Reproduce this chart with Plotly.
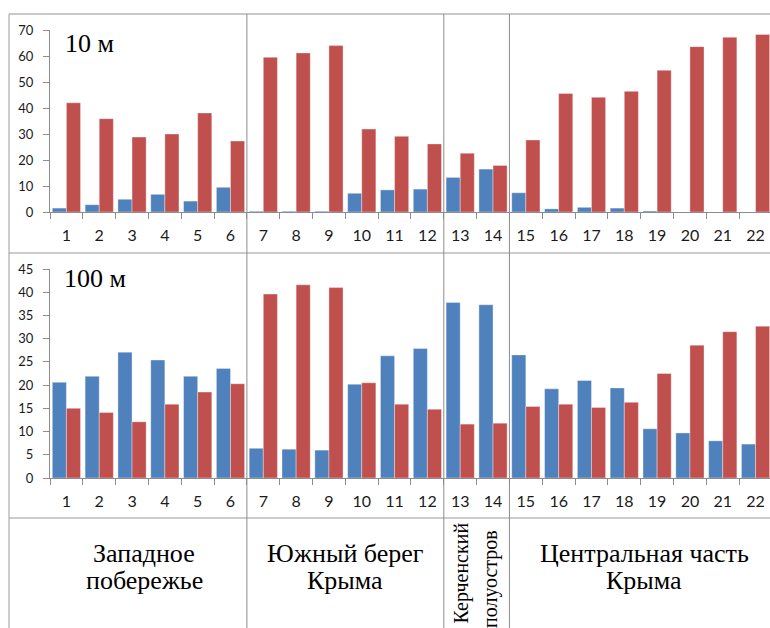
import plotly.graph_objects as go

W, H = 770, 628

categories = [str(i) for i in range(1, 23)]

blue_10m = [1.5, 2.8, 4.9, 6.8, 4.2, 9.5, 0.3, 0.3, 0.3, 7.2, 8.5, 8.8, 13.3, 16.5,
            7.4, 1.2, 1.8, 1.5, 0.4, 0.0, 0.0, 0.0]
red_10m = [42.0, 35.9, 28.8, 30.0, 38.1, 27.3, 59.5, 61.2, 64.0, 31.9, 29.1, 26.2, 22.6, 17.9,
           27.7, 45.6, 44.1, 46.4, 54.5, 63.6, 67.2, 68.3]

blue_100m = [20.6, 21.9, 27.1, 25.4, 21.9, 23.6, 6.4, 6.2, 6.0, 20.2, 26.3, 27.9, 37.8, 37.3,
             26.5, 19.2, 21.0, 19.4, 10.6, 9.7, 8.0, 7.3]
red_100m = [15.0, 14.1, 12.1, 15.9, 18.5, 20.3, 39.6, 41.6, 41.0, 20.5, 15.9, 14.8, 11.6, 11.8,
            15.4, 15.9, 15.2, 16.3, 22.5, 28.6, 31.5, 32.7]

y_ticks_10m = [0, 10, 20, 30, 40, 50, 60, 70]
y_ticks_100m = [0, 5, 10, 15, 20, 25, 30, 35, 40, 45]

panel_labels = ["10 м", "100 м"]
regions = [
    ("Западное", "побережье"),
    ("Южный берег", "Крыма"),
    ("Керченский", "полуостров"),
    ("Центральная часть", "Крыма"),
]

BLUE = "#4F81BD"
RED = "#C0504D"
GRID = "#8C8C8C"
SERIF = "Liberation Serif, Times New Roman, serif"


def px(x):
    return x / W


def py(y):
    return 1 - y / H


fig = go.Figure()
for b, r, xa, ya in [(blue_10m, red_10m, "x", "y"), (blue_100m, red_100m, "x2", "y2")]:
    fig.add_trace(go.Bar(x=categories, y=b, xaxis=xa, yaxis=ya, marker_color=BLUE,
                         marker_line=dict(color="rgba(255,255,255,0.6)", width=0.6),
                         showlegend=False, hoverinfo="skip"))
    fig.add_trace(go.Bar(x=categories, y=r, xaxis=xa, yaxis=ya, marker_color=RED,
                         marker_line=dict(color="rgba(255,255,255,0.6)", width=0.6),
                         showlegend=False, hoverinfo="skip"))

xrange_ = [-0.5, 21.44]
xcommon = dict(type="category", range=xrange_, domain=[px(50), 1.0], automargin=False,
               showline=True, linecolor=GRID, linewidth=1,
               ticks="outside", tickson="boundaries", ticklen=6, tickcolor=GRID,
               ticklabelstandoff=9,
               tickfont=dict(family="Lato", size=16, color="#1a1a1a"),
               showgrid=False, zeroline=False, fixedrange=True)
ycommon = dict(showline=True, linecolor=GRID, linewidth=1, automargin=False,
               ticks="outside", ticklen=6, tickcolor=GRID, ticklabelstandoff=7,
               tickfont=dict(family="Lato", size=13, color="#1a1a1a"),
               showgrid=False, zeroline=False, fixedrange=True)

fig.update_layout(
    width=W, height=H,
    margin=dict(l=0, r=0, t=0, b=0, pad=0),
    paper_bgcolor="white", plot_bgcolor="white",
    barmode="group", bargap=0.14, bargroupgap=0.0,
    xaxis=dict(**xcommon, anchor="y"),
    yaxis=dict(**ycommon, domain=[py(212), py(30)], range=[0, 70], tickvals=y_ticks_10m, anchor="x"),
    xaxis2=dict(**xcommon, anchor="y2"),
    yaxis2=dict(**ycommon, domain=[py(478), py(269)], range=[0, 45], tickvals=y_ticks_100m, anchor="x2"),
)

shapes = []
# frame lines
shapes.append(dict(type="line", xref="paper", yref="paper", x0=px(9), x1=1, y0=py(14), y1=py(14),
                   line=dict(color="#C8C8C8", width=2)))
shapes.append(dict(type="line", xref="paper", yref="paper", x0=px(9), x1=px(9), y0=py(14), y1=0,
                   line=dict(color="#BDBDBD", width=1.5)))
for yy in (253, 518):
    shapes.append(dict(type="line", xref="paper", yref="paper", x0=px(9), x1=1, y0=py(yy), y1=py(yy),
                       line=dict(color="#9A9A9A", width=1.2)))
# region dividers at category boundaries
for bnd in (5.5, 11.5, 13.5):
    shapes.append(dict(type="line", xref="x", yref="paper", x0=bnd, x1=bnd, y0=0, y1=py(14),
                       line=dict(color=GRID, width=1)))
fig.update_layout(shapes=shapes)

ann = []
ann.append(dict(text=panel_labels[0], xref="paper", yref="paper", x=px(63), y=py(43),
                xanchor="left", yanchor="middle", showarrow=False,
                font=dict(family=SERIF, size=26, color="black")))
ann.append(dict(text=panel_labels[1], xref="paper", yref="paper", x=px(62), y=py(278),
                xanchor="left", yanchor="middle", showarrow=False,
                font=dict(family=SERIF, size=26, color="black")))

serif = dict(family=SERIF, size=26, color="black")
centers = [144, 345, None, 644]
for (l1, l2), cx in zip(regions, centers):
    if cx is None:
        continue
    ann.append(dict(text=l1, xref="paper", yref="paper", x=px(cx), y=py(553),
                    xanchor="center", yanchor="middle", showarrow=False, font=serif))
    ann.append(dict(text=l2, xref="paper", yref="paper", x=px(cx), y=py(580),
                    xanchor="center", yanchor="middle", showarrow=False, font=serif))
ke1, ke2 = regions[2]
serif_small = dict(family=SERIF, size=20, color="black")
ann.append(dict(text=ke1, xref="paper", yref="paper", x=px(461), y=py(521), textangle=-90,
                xanchor="center", yanchor="top", showarrow=False, font=serif_small))
ann.append(dict(text=ke2, xref="paper", yref="paper", x=px(490), y=py(528), textangle=-90,
                xanchor="center", yanchor="top", showarrow=False, font=serif_small))
fig.update_layout(annotations=ann)

fig.write_html("out.html", config={"displayModeBar": False},
               post_script="document.body.style.margin='0';document.body.style.padding='0';")
